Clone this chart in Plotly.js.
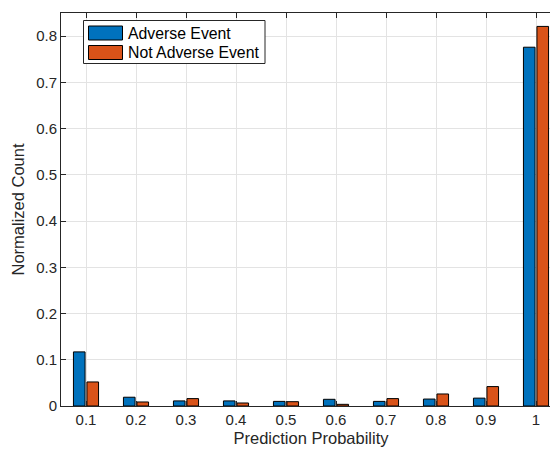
<!DOCTYPE html>
<html>
<head>
<meta charset="utf-8">
<script src="https://cdn.plot.ly/plotly-3.0.1.min.js"></script>
<style>
  html, body { margin: 0; padding: 0; background: #ffffff; overflow: hidden; width: 550px; height: 452px; }
  #chart { width: 562px; height: 452px; }
</style>
</head>
<body>
<div id="chart"></div>
<script>
// Bin centres of the prediction-probability histogram
const bins = [0.1, 0.2, 0.3, 0.4, 0.5, 0.6, 0.7, 0.8, 0.9, 1.0];
const binLabels = ['0.1', '0.2', '0.3', '0.4', '0.5', '0.6', '0.7', '0.8', '0.9', '1'];

// Normalized counts per bin
const adverse = [0.117, 0.019, 0.011, 0.011, 0.010, 0.0145, 0.010, 0.015, 0.017, 0.776];
const notAdverse = [0.052, 0.0087, 0.016, 0.0065, 0.0093, 0.0036, 0.016, 0.026, 0.042, 0.821];

const seriesNames = ['Adverse Event', 'Not Adverse Event'];
const seriesColors = ['#0072BD', '#D95319'];

const yTicks = [0, 0.1, 0.2, 0.3, 0.4, 0.5, 0.6, 0.7, 0.8];
const yTickLabels = ['0', '0.1', '0.2', '0.3', '0.4', '0.5', '0.6', '0.7', '0.8'];

const axisColor = '#262626';
const gridColor = '#e3e3e3';
const fontFamily = '"Liberation Sans", Arial, Helvetica, sans-serif';

// Plot-area geometry in pixels, used to place the legend key
const M = { l: 61, r: 1, t: 13, b: 46 };
const W = 562, H = 452;
const PW = W - M.l - M.r, PH = H - M.t - M.b;
const px = x => (x - M.l) / PW;
const py = y => (H - M.b - y) / PH;

const traces = [adverse, notAdverse].map((vals, i) => ({
  type: 'bar',
  x: bins,
  y: vals,
  name: seriesNames[i],
  marker: { color: seriesColors[i], line: { color: '#000000', width: 1 } },
  hoverinfo: 'x+y+name'
}));

const layout = {
  width: W,
  height: H,
  margin: M,
  paper_bgcolor: '#ffffff',
  plot_bgcolor: '#ffffff',
  font: { family: fontFamily, size: 15, color: axisColor },
  barmode: 'group',
  bargap: 0.46,
  bargroupgap: 0.14,
  showlegend: false,
  xaxis: {
    range: [0.05, 1.05],
    tickvals: bins,
    ticktext: binLabels,
    ticks: 'inside',
    ticklen: 5,
    tickcolor: axisColor,
    showline: true,
    linecolor: axisColor,
    linewidth: 1,
    mirror: 'ticks',
    showgrid: true,
    gridcolor: gridColor,
    zeroline: false,
    tickfont: { size: 15, color: axisColor },
    title: { text: 'Prediction Probability', font: { size: 16.5, color: axisColor }, standoff: 5 }
  },
  yaxis: {
    range: [0, 0.85],
    tickvals: yTicks,
    ticktext: yTickLabels,
    ticks: 'inside',
    ticklen: 5,
    tickcolor: axisColor,
    showline: true,
    linecolor: axisColor,
    linewidth: 1,
    mirror: 'ticks',
    showgrid: true,
    gridcolor: gridColor,
    zeroline: false,
    tickfont: { size: 15, color: axisColor },
    title: { text: 'Normalized Count', font: { size: 16.5, color: axisColor }, standoff: 7 }
  },
  // Boxed legend key with wide swatches
  shapes: [
    { type: 'rect', xref: 'paper', yref: 'paper', layer: 'above',
      x0: px(83.5), x1: px(265), y0: py(63.5), y1: py(20.5),
      fillcolor: '#ffffff', line: { color: axisColor, width: 1 } },
    { type: 'rect', xref: 'paper', yref: 'paper', layer: 'above',
      x0: px(88.5), x1: px(122.5), y0: py(40), y1: py(26),
      fillcolor: seriesColors[0], line: { color: '#000000', width: 1 } },
    { type: 'rect', xref: 'paper', yref: 'paper', layer: 'above',
      x0: px(88.5), x1: px(122.5), y0: py(59.5), y1: py(45.5),
      fillcolor: seriesColors[1], line: { color: '#000000', width: 1 } }
  ],
  annotations: seriesNames.map((name, i) => ({
    xref: 'paper', yref: 'paper',
    x: px(125.5),
    y: py(33.3 + i * 19.4),
    xanchor: 'left', yanchor: 'middle',
    text: name, showarrow: false,
    font: { size: 15.8, color: '#000000', family: fontFamily }
  }))
};

Plotly.newPlot('chart', traces, layout, { displayModeBar: false, staticPlot: true });
</script>
</body>
</html>
